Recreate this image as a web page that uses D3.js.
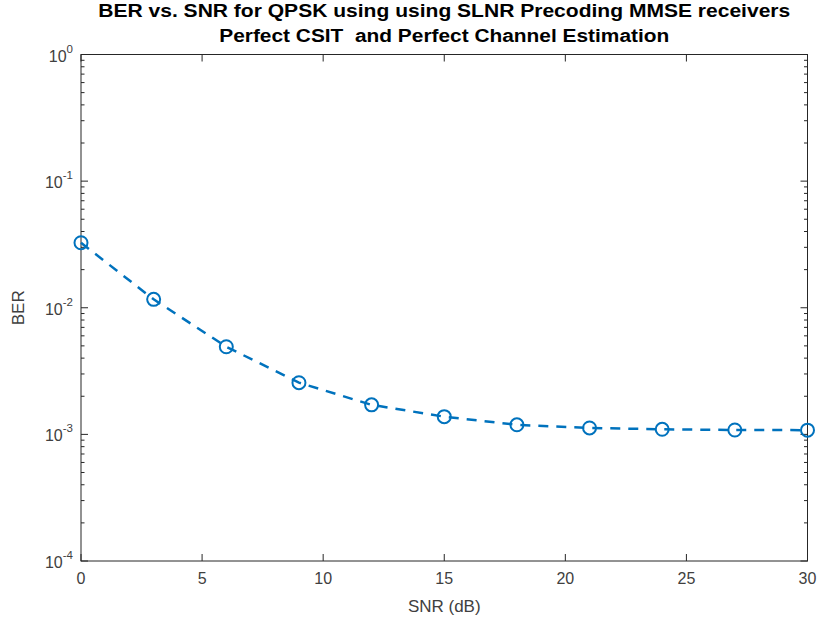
<!DOCTYPE html>
<html>
<head>
<meta charset="utf-8">
<script src="https://cdn.jsdelivr.net/npm/d3@7"></script>
<style>
body { margin: 0; background: #fff; }
svg { font-family: "Liberation Sans", Arial, Helvetica, sans-serif; }
</style>
</head>
<body>
<svg id="chart" width="822" height="625"></svg>
<script>
// data
var snr = [0, 3, 6, 9, 12, 15, 18, 21, 24, 27, 30];
var ber = [0.0326, 0.01165, 0.00492, 0.00256, 0.00171, 0.00138, 0.00119, 0.001124, 0.001097, 0.001083, 0.00108];
var xTicks = [0, 5, 10, 15, 20, 25, 30];
var yTicks = [1e-4, 1e-3, 1e-2, 1e-1, 1];
var titleLines = ["BER vs. SNR for QPSK using using SLNR Precoding MMSE receivers",
	"Perfect CSIT  and Perfect Channel Estimation"];
var titleWidths = [692, 450];

(function() {
	var axColor = "#262626";
	var textColor = "#404040";
	var lineColor = "#0072BD";
	var pl = 81, pr = 807.5, pt = 54.5, pb = 561;

	var svg = d3.select("#chart");

	var x = d3.scaleLinear().domain([0, 30]).range([pl, pr]);
	var y = d3.scaleLog().domain([1e-4, 1]).range([pb, pt]);

	// minor ticks for log axis
	var minor = [];
	for (var e = -4; e < 0; e++) {
		for (var m = 2; m <= 9; m++) minor.push(m * Math.pow(10, e));
	}

	var g = svg.append("g");

	// box
	g.append("rect")
		.attr("x", pl).attr("y", pt)
		.attr("width", pr - pl).attr("height", pb - pt)
		.attr("fill", "none").attr("stroke", axColor).attr("stroke-width", 1);

	// x ticks (bottom and top, inward)
	[[pb, -1], [pt, 1]].forEach(function(s) {
		g.selectAll(null).data(xTicks).enter().append("line")
			.attr("x1", function(d) { return x(d); }).attr("x2", function(d) { return x(d); })
			.attr("y1", s[0]).attr("y2", s[0] + s[1] * 7)
			.attr("stroke", axColor);
	});

	// y ticks, major and minor, left and right
	[[pl, 1], [pr, -1]].forEach(function(s) {
		g.selectAll(null).data(yTicks).enter().append("line")
			.attr("x1", s[0]).attr("x2", s[0] + s[1] * 7)
			.attr("y1", function(d) { return y(d); }).attr("y2", function(d) { return y(d); })
			.attr("stroke", axColor);
		g.selectAll(null).data(minor).enter().append("line")
			.attr("x1", s[0]).attr("x2", s[0] + s[1] * 3.5)
			.attr("y1", function(d) { return y(d); }).attr("y2", function(d) { return y(d); })
			.attr("stroke", axColor);
	});

	// x tick labels
	g.selectAll("text.xl").data(xTicks).enter().append("text")
		.attr("x", function(d) { return x(d); })
		.attr("y", pb + 23)
		.attr("text-anchor", "middle")
		.attr("font-size", 16)
		.attr("fill", textColor)
		.text(function(d) { return d; });

	// y tick labels with superscript exponent
	var yl = g.selectAll("text.yl").data(yTicks).enter().append("text")
		.attr("x", pl - 8)
		.attr("y", function(d) { return y(d) + 7; })
		.attr("text-anchor", "end")
		.attr("font-size", 16)
		.attr("fill", textColor);
	yl.append("tspan").text("10");
	yl.append("tspan")
		.attr("dy", -9)
		.attr("font-size", 11.5)
		.text(function(d) { return Math.round(Math.log10(d)); });

	// axis labels
	g.append("text")
		.attr("x", (pl + pr) / 2).attr("y", pb + 51)
		.attr("text-anchor", "middle")
		.attr("font-size", 17)
		.attr("fill", textColor)
		.text("SNR (dB)");
	g.append("text")
		.attr("transform", "translate(24," + ((pt + pb) / 2) + ") rotate(-90)")
		.attr("text-anchor", "middle")
		.attr("font-size", 17)
		.attr("fill", textColor)
		.text("BER");

	// title
	g.selectAll("text.title").data(titleLines).enter().append("text")
		.attr("x", (pl + pr) / 2)
		.attr("y", function(d, i) { return 17 + i * 25; })
		.attr("text-anchor", "middle")
		.attr("font-size", 17.5)
		.attr("font-weight", "bold")
		.attr("fill", "#000")
		.attr("textLength", function(d, i) { return titleWidths[i]; })
		.attr("lengthAdjust", "spacingAndGlyphs")
		.style("white-space", "pre")
		.text(function(d) { return d; });

	// series
	var pts = snr.map(function(s, i) { return [s, ber[i]]; });
	var line = d3.line()
		.x(function(d) { return x(d[0]); })
		.y(function(d) { return y(d[1]); });

	g.append("path")
		.datum(pts)
		.attr("d", line)
		.attr("fill", "none")
		.attr("stroke", lineColor)
		.attr("stroke-width", 2.5)
		.attr("stroke-dasharray", "10,8");

	g.selectAll("circle.m").data(pts).enter().append("circle")
		.attr("cx", function(d) { return x(d[0]); })
		.attr("cy", function(d) { return y(d[1]); })
		.attr("r", 6.5)
		.attr("fill", "none")
		.attr("stroke", lineColor)
		.attr("stroke-width", 2);
})();
</script>
</body>
</html>
